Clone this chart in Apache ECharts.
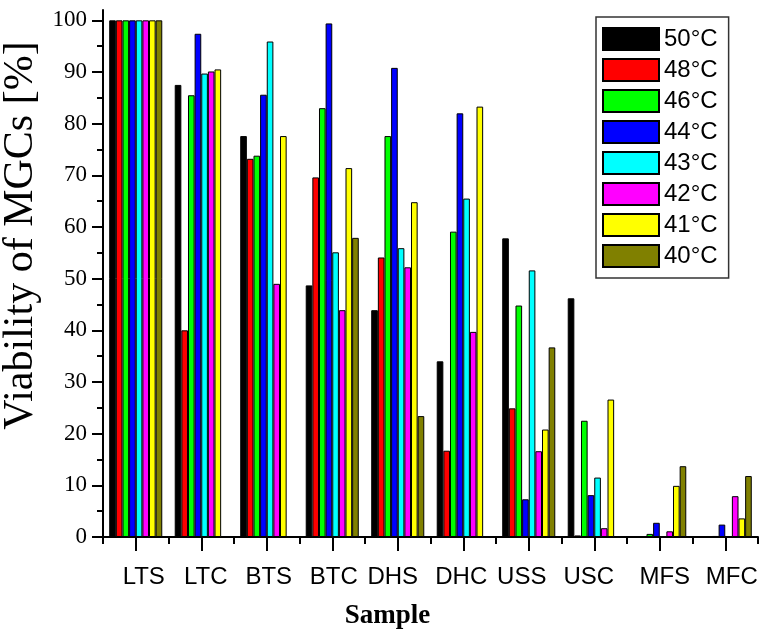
<!DOCTYPE html>
<html><head><meta charset="utf-8">
<script src="https://cdn.jsdelivr.net/npm/echarts@6/dist/echarts.min.js"></script>
<style>html,body{margin:0;padding:0;background:#fff}#c{width:760px;height:630px}</style>
</head><body><div id="c"></div>
<script>
const categories = ['LTS', 'LTC', 'BTS', 'BTC', 'DHS', 'DHC', 'USS', 'USC', 'MFS', 'MFC'];
const temperatures = ['50°C', '48°C', '46°C', '44°C', '43°C', '42°C', '41°C', '40°C'];
const viability50 = [100, 87.5, 77.6, 48.7, 43.9, 34.0, 57.8, 46.2, 0, 0];
const viability48 = [100, 40.0, 73.2, 69.6, 54.1, 16.7, 24.9, 0.3, 0, 0];
const viability46 = [100, 85.5, 73.8, 83.0, 77.6, 59.1, 44.8, 22.5, 0.6, 0.2];
const viability44 = [100, 97.4, 85.6, 99.4, 90.8, 82.0, 7.3, 8.1, 2.75, 2.4];
const viability43 = [100, 89.7, 95.9, 55.1, 55.9, 65.5, 51.6, 11.5, 0, 0];
const viability42 = [100, 90.1, 49.0, 43.9, 52.2, 39.7, 16.6, 1.7, 1.1, 7.9];
const viability41 = [100, 90.5, 77.6, 71.4, 64.8, 83.3, 20.8, 26.6, 9.9, 3.6];
const viability40 = [100, 0, 0, 57.9, 23.4, 0, 36.7, 0, 13.7, 11.8];
const yMajorTicks = [0, 10, 20, 30, 40, 50, 60, 70, 80, 90, 100];
const yMinorTicks = [5, 15, 25, 35, 45, 55, 65, 75, 85, 95];

const allValues = [viability50, viability48, viability46, viability44, viability43, viability42, viability41, viability40];
const palette = ['#000000', '#ff0000', '#00ff00', '#0000ff', '#00ffff', '#ff00ff', '#ffff00', '#808000'];
// small horizontal nudges of the category labels (as placed in the original figure)
const labelNudge = {LTS: 8, LTC: 4.5, BTS: 2, BTC: 1.5, DHS: -5, DHC: -2, USS: -7, USC: -5.5, MFS: 5, MFC: 6.5};

const serif = "'Liberation Serif', 'Times New Roman', serif";
const sans = "'Liberation Sans', Arial, sans-serif";
const gridRect = {left: 103, right: 2, top: 10, bottom: 93, outerBoundsMode: 'none', containLabel: false};

const chart = echarts.init(document.getElementById('c'), null, {renderer: 'canvas'});
const option = {
  animation: false,
  backgroundColor: '#ffffff',
  color: palette,
  grid: [Object.assign({}, gridRect), Object.assign({}, gridRect)],
  legend: {
    orient: 'vertical',
    left: 596, top: 17,
    padding: [10, 11, 10, 6],
    borderColor: '#333', borderWidth: 1.5,
    itemWidth: 56, itemHeight: 22, itemGap: 7,
    icon: 'rect',
    textStyle: {fontFamily: sans, fontSize: 24, color: '#000', lineHeight: 22},
    data: temperatures
  },
  xAxis: [
    {
      type: 'category', gridIndex: 0,
      data: categories.map(c => {
        const n = labelNudge[c] || 0;
        return {value: c, textStyle: {padding: n >= 0 ? [0, 0, 0, 2 * n] : [0, -2 * n, 0, 0]}};
      }),
      axisLine: {show: true, lineStyle: {color: '#000', width: 2}},
      axisTick: {show: true, alignWithLabel: true, interval: 0, length: 14, lineStyle: {color: '#000', width: 2}},
      axisLabel: {fontFamily: sans, fontSize: 24, color: '#000', margin: 28, interval: 0},
      splitLine: {show: false},
      name: 'Sample', nameLocation: 'middle', nameGap: 66,
      nameTextStyle: {fontFamily: serif, fontSize: 27, fontWeight: 'bold', color: '#000', padding: [0, 86, 0, 0]}
    },
    {
      type: 'category', gridIndex: 1, data: categories,
      axisLine: {show: false},
      axisTick: {show: true, interval: 0, length: 7, lineStyle: {color: '#000', width: 2}},
      axisLabel: {show: false},
      splitLine: {show: false}
    }
  ],
  yAxis: [
    {
      type: 'value', gridIndex: 0, min: 0, max: 102,
      axisLine: {show: true, lineStyle: {color: '#000', width: 2}},
      axisTick: {show: true, length: 11, customValues: yMajorTicks, lineStyle: {color: '#000', width: 2}},
      axisLabel: {fontFamily: serif, fontSize: 23, color: '#000', margin: 16, customValues: yMajorTicks},
      splitLine: {show: false},
      name: 'Viability of MGCs [%]', nameLocation: 'middle', nameGap: 49,
      nameTextStyle: {fontFamily: serif, fontSize: 42, color: '#000', padding: [0, 0, 0, 76]}
    },
    {
      type: 'value', gridIndex: 1, min: 0, max: 102,
      axisLine: {show: false},
      axisTick: {show: true, length: 6, customValues: yMinorTicks, lineStyle: {color: '#000', width: 2}},
      axisLabel: {show: false},
      splitLine: {show: false}
    }
  ],
  series: temperatures.map((t, i) => ({
    type: 'bar', name: t, data: allValues[i],
    xAxisIndex: 0, yAxisIndex: 0,
    barGap: '0%', barCategoryGap: '19%',
    itemStyle: {color: palette[i], borderColor: '#000', borderWidth: 1}
  }))
};
chart.setOption(option);
</script>
</body></html>
